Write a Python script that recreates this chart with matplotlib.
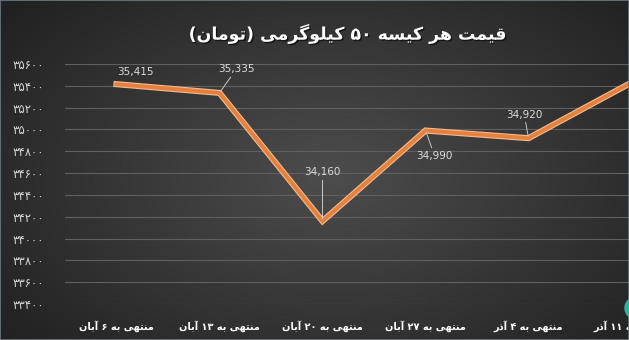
import re

import matplotlib
matplotlib.use("Agg")
import matplotlib.patheffects as pe
import matplotlib.pyplot as plt
import numpy as np
from matplotlib.patches import Ellipse, Rectangle


TITLE = "قیمت هر کیسه ۵۰ کیلوگرمی (تومان)"
weeks = [
    "منتهی به ۶ آبان",
    "منتهی به ۱۳ آبان",
    "منتهی به ۲۰ آبان",
    "منتهی به ۲۷ آبان",
    "منتهی به ۴ آذر",
    "منتهی به ۱۱ آذر",
]
prices = [35415, 35335, 34160, 34990, 34920, 35430]
price_labels = ["35,415", "35,335", "34,160", "34,990", "34,920", ""]
y_ticks = [33400, 33600, 33800, 34000, 34200, 34400, 34600, 34800, 35000, 35200, 35400, 35600]

# label offsets in points (dx, dy) and whether a leader line is drawn
label_offsets = [(13.5, 9), (12, 17), (0, 35), (6.5, -18), (-3, 17), (0, 0)]
label_leaders = [False, True, True, True, True, False]


# matplotlib has no arabic shaping, so do it by hand with presentation forms
FORMS = {
    "\u0627": ("\uFE8D", "\uFE8E", None, None),
    "\u0622": ("\uFE81", "\uFE82", None, None),
    "\u0628": ("\uFE8F", "\uFE90", "\uFE91", "\uFE92"),
    "\u062A": ("\uFE95", "\uFE96", "\uFE97", "\uFE98"),
    "\u0630": ("\uFEAB", "\uFEAC", None, None),
    "\u0631": ("\uFEAD", "\uFEAE", None, None),
    "\u0633": ("\uFEB1", "\uFEB2", "\uFEB3", "\uFEB4"),
    "\u0642": ("\uFED5", "\uFED6", "\uFED7", "\uFED8"),
    "\u0644": ("\uFEDD", "\uFEDE", "\uFEDF", "\uFEE0"),
    "\u0645": ("\uFEE1", "\uFEE2", "\uFEE3", "\uFEE4"),
    "\u0646": ("\uFEE5", "\uFEE6", "\uFEE7", "\uFEE8"),
    "\u0647": ("\uFEE9", "\uFEEA", "\uFEEB", "\uFEEC"),
    "\u0648": ("\uFEED", "\uFEEE", None, None),
    "\u06CC": ("\uFBFC", "\uFBFD", "\uFBFE", "\uFBFF"),
    "\u06A9": ("\uFB8E", "\uFB8F", "\uFB90", "\uFB91"),
    "\u06AF": ("\uFB92", "\uFB93", "\uFB94", "\uFB95"),
}
MIRROR = {"(": ")", ")": "("}


def rtl(s):
    out = []
    for i, c in enumerate(s):
        if c not in FORMS:
            out.append(c)
            continue
        prev = s[i - 1] if i > 0 else ""
        nxt = s[i + 1] if i + 1 < len(s) else ""
        iso, fin, ini, med = FORMS[c]
        jp = prev in FORMS and FORMS[prev][2] is not None
        jn = nxt in FORMS and ini is not None
        if jp and jn:
            out.append(med)
        elif jp:
            out.append(fin)
        elif jn:
            out.append(ini)
        else:
            out.append(iso)
    shaped = "".join(out)
    tokens = re.findall(r"[0-9\u06F0-\u06F9]+|.", shaped)
    return "".join(MIRROR.get(t, t) for t in reversed(tokens))


def fa_digits(n):
    return str(n).translate(str.maketrans("0123456789", "۰۱۲۳۴۵۶۷۸۹"))


plt.rcParams["font.family"] = ["DejaVu Sans"]

fig = plt.figure(figsize=(6.29, 3.4), dpi=100)

# dark radial background
bg = fig.add_axes([0, 0, 1, 1], zorder=-2)
yy, xx = np.mgrid[0:340, 0:629]
d = np.sqrt(((xx - 330) / 420.0) ** 2 + ((yy - 175) / 260.0) ** 2)
shade = np.clip(0.30 - 0.17 * d, 0.13, 0.30)
bg.imshow(np.dstack([shade] * 3), aspect="auto", extent=[0, 1, 0, 1])
bg.axis("off")

ax = fig.add_axes([65 / 629, 1 - 304 / 340, 618 / 629, 240 / 340])
ax.set_facecolor("none")
x = np.arange(len(weeks))

ax.plot(x, prices, color="#e5813f", lw=2.8, solid_joinstyle="miter", zorder=3,
        path_effects=[pe.Stroke(linewidth=4.4, foreground="#f5b98c"), pe.Normal()])

for i, (v, lab) in enumerate(zip(prices, price_labels)):
    if not lab:
        continue
    arrow = dict(arrowstyle="-", color="#c8c8c8", lw=0.7, shrinkA=0, shrinkB=1.5) if label_leaders[i] else None
    ax.annotate(lab, (x[i], v), xytext=label_offsets[i], textcoords="offset points",
                ha="center", va="center", fontsize=7.5, color="#dcdcdc",
                arrowprops=arrow, zorder=4, annotation_clip=False)

ax.set_xlim(-0.5, len(weeks) - 0.5)
ax.set_ylim(y_ticks[0], y_ticks[-1])
ax.set_yticks(y_ticks)
ax.set_yticklabels([fa_digits(t) for t in y_ticks], fontsize=8.5, color="#d4d4d4")
ax.set_xticks(x)
ax.set_xticklabels([rtl(w) for w in weeks], fontsize=7, color="white", fontweight="bold")
ax.tick_params(axis="both", length=0)
ax.tick_params(axis="y", pad=15)
ax.tick_params(axis="x", pad=12)
ax.grid(axis="y", color="#606060", lw=0.8)
ax.set_axisbelow(True)
for s in ax.spines.values():
    s.set_visible(False)

fig.text(0.553, 1 - 34 / 340, rtl(TITLE), ha="center", va="center", fontsize=12.5,
         fontweight="bold", color="white",
         path_effects=[pe.withSimplePatchShadow(offset=(1, -1), shadow_rgbFace="black", alpha=0.6)])

# bits of the frame and the logo corner
fig.patches.append(Rectangle((0, 0), 1, 1, transform=fig.transFigure, fill=False,
                             edgecolor="#707c80", lw=1.2, zorder=5))
fig.patches.append(Ellipse((6.36, 0.32), 0.22, 0.22, transform=fig.dpi_scale_trans,
                           color="#2fb39a", zorder=5))

fig.savefig("out.png", dpi=100)
